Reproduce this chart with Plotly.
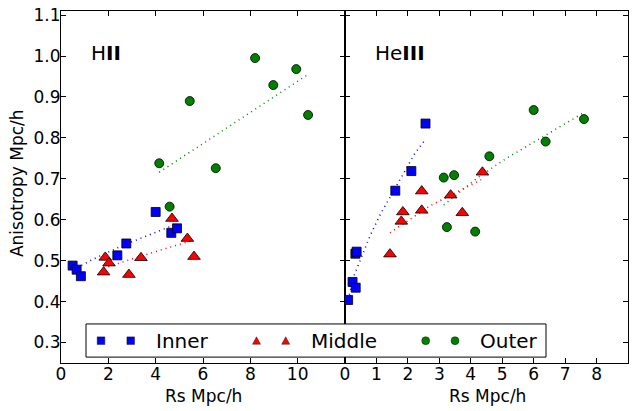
import plotly.graph_objects as go

# ---------------- data ----------------
# HII panel
hii_inner_x = [0.49, 0.66, 0.84, 2.38, 2.76, 4.00, 4.66, 4.90]
hii_inner_y = [0.488, 0.478, 0.462, 0.513, 0.542, 0.619, 0.568, 0.579]
hii_middle_x = [1.80, 1.87, 2.03, 2.87, 3.38, 4.69, 5.34, 5.62]
hii_middle_y = [0.472, 0.508, 0.494, 0.466, 0.507, 0.603, 0.554, 0.510]
hii_outer_x = [4.15, 4.59, 5.44, 6.54, 8.20, 8.97, 9.94, 10.44]
hii_outer_y = [0.738, 0.632, 0.890, 0.726, 0.995, 0.929, 0.968, 0.856]

# HeIII panel
heiii_inner_x = [0.10, 0.24, 0.34, 0.33, 0.37, 1.60, 2.11, 2.56]
heiii_inner_y = [0.404, 0.448, 0.434, 0.517, 0.522, 0.671, 0.719, 0.835]
heiii_middle_x = [1.43, 1.79, 1.84, 2.44, 2.44, 3.36, 3.73, 4.37]
heiii_middle_y = [0.516, 0.596, 0.619, 0.623, 0.670, 0.660, 0.617, 0.716]
heiii_outer_x = [3.14, 3.24, 3.47, 4.14, 4.59, 6.00, 6.38, 7.60]
heiii_outer_y = [0.703, 0.582, 0.709, 0.571, 0.755, 0.868, 0.791, 0.846]

# dotted trend curves
hii_inner_fit_x = [0.49, 1.30, 2.56, 4.90]
hii_inner_fit_y = [0.477, 0.502, 0.536, 0.590]
hii_middle_fit_x = [1.80, 2.77, 5.62]
hii_middle_fit_y = [0.481, 0.500, 0.551]
hii_outer_fit_x = [4.15, 10.44]
hii_outer_fit_y = [0.716, 0.955]

heiii_inner_fit_x = [0.10, 0.30, 0.81, 1.13, 2.22, 2.56]
heiii_inner_fit_y = [0.405, 0.466, 0.563, 0.614, 0.762, 0.796]
heiii_middle_fit_x = [1.43, 2.70, 4.33]
heiii_middle_fit_y = [0.568, 0.634, 0.698]
heiii_outer_fit_x = [3.14, 3.59, 4.17, 5.09, 7.60]
heiii_outer_fit_y = [0.636, 0.664, 0.700, 0.748, 0.862]

series_names = ["Inner", "Middle", "Outer"]
y_ticks = [0.3, 0.4, 0.5, 0.6, 0.7, 0.8, 0.9, 1.0, 1.1]
y_tick_text = ["0.3", "0.4", "0.5", "0.6", "0.7", "0.8", "0.9", "1.0", "1.1"]
hii_x_ticks = [0, 2, 4, 6, 8, 10]
heiii_x_ticks = [0, 1, 2, 3, 4, 5, 6, 7, 8]
panel_labels = ["H<b>II</b>", "He<b>III</b>"]
x_title = "Rs Mpc/h"
y_title = "Anisotropy Mpc/h"

# ---------------- styling ----------------
FONT = "DejaVu Sans"
colors = ["#0000ff", "#ff0000", "#008000"]
symbols = ["square", "triangle-up", "circle"]
sizes = [9, 11, 9]

fig = go.Figure()

panels = [
    ("x", "y",
     [(hii_inner_x, hii_inner_y), (hii_middle_x, hii_middle_y), (hii_outer_x, hii_outer_y)],
     [(hii_inner_fit_x, hii_inner_fit_y), (hii_middle_fit_x, hii_middle_fit_y),
      (hii_outer_fit_x, hii_outer_fit_y)]),
    ("x2", "y2",
     [(heiii_inner_x, heiii_inner_y), (heiii_middle_x, heiii_middle_y), (heiii_outer_x, heiii_outer_y)],
     [(heiii_inner_fit_x, heiii_inner_fit_y), (heiii_middle_fit_x, heiii_middle_fit_y),
      (heiii_outer_fit_x, heiii_outer_fit_y)]),
]

for xa, ya, pts, fits in panels:
    for i, (fx, fy) in enumerate(fits):
        fig.add_trace(go.Scatter(
            x=fx, y=fy, xaxis=xa, yaxis=ya, mode="lines",
            line=dict(color=colors[i], width=1.5, dash="1px,4px"),
            showlegend=False, hoverinfo="skip"))
    for i, (px, py) in enumerate(pts):
        fig.add_trace(go.Scatter(
            x=px, y=py, xaxis=xa, yaxis=ya, mode="markers",
            name=series_names[i],
            marker=dict(symbol=symbols[i], size=sizes[i], color=colors[i],
                        line=dict(color="black", width=0.8)),
            showlegend=False))

axis_common = dict(
    showline=True, linecolor="black", linewidth=1, mirror="ticks",
    ticks="inside", ticklen=5, tickwidth=1, tickcolor="black",
    showgrid=False, zeroline=False, ticklabeloverflow="allow",
    tickfont=dict(family=FONT, size=17, color="black"),
)

split = 284 / 567
fig.update_layout(
    width=638, height=411,
    margin=dict(l=61, r=10, t=5, b=48),
    paper_bgcolor="white", plot_bgcolor="white",
    font=dict(family=FONT, color="black"),
    xaxis=dict(domain=[0, split], range=[0, 12], tickmode="array",
               tickvals=hii_x_ticks, anchor="y", ticklabelstandoff=-4, **axis_common),
    xaxis2=dict(domain=[split, 1], range=[0, 9], tickmode="array",
                tickvals=heiii_x_ticks, anchor="y2", ticklabelstandoff=-4, **axis_common),
    yaxis=dict(domain=[0, 1], range=[0.25, 1.11], tickmode="array",
               tickvals=y_ticks, ticktext=y_tick_text, anchor="x",
               ticklabelstandoff=-4, **axis_common),
    yaxis2=dict(domain=[0, 1], range=[0.25, 1.11], tickmode="array",
                tickvals=y_ticks, ticktext=y_tick_text, anchor="x2",
                showticklabels=False, **axis_common),
    showlegend=False,
)

# ---------------- text ----------------
W, H = 567.0, 358.0
def px_x(p):
    return (p - 61) / W
def px_y(p):
    return (363 - p) / H

annotations = [
    dict(text=panel_labels[0], x=px_x(89), y=px_y(48), xanchor="left", yanchor="middle",
         font=dict(size=20)),
    dict(text=panel_labels[1], x=px_x(373), y=px_y(48), xanchor="left", yanchor="middle",
         font=dict(size=20)),
    dict(text=x_title, x=px_x(203), y=px_y(397), xanchor="center", yanchor="middle",
         font=dict(size=17)),
    dict(text=x_title, x=px_x(487), y=px_y(397), xanchor="center", yanchor="middle",
         font=dict(size=17)),
    dict(text=y_title, x=px_x(17), y=px_y(180), xanchor="center", yanchor="middle",
         textangle=-90, font=dict(size=17)),
]

# ---------------- legend (matplotlib-style, two markers per entry) ----------------
shapes = [dict(type="rect", xref="paper", yref="paper",
               x0=px_x(86), x1=px_x(546), y0=px_y(357), y1=px_y(323.3),
               fillcolor="white", line=dict(color="black", width=1), layer="above")]
leg_y = px_y(340.3)
marker_px = [(101, 130.7), (256.5, 285.7), (425.7, 455)]
text_px = [154, 309, 478]
for i in range(3):
    for mx in marker_px[i]:
        base = dict(xref="paper", yref="paper", xsizemode="pixel", ysizemode="pixel",
                    xanchor=px_x(mx), yanchor=leg_y, fillcolor=colors[i],
                    line=dict(color="black", width=0.4), layer="above")
        if i == 0:
            shapes.append(dict(type="rect", x0=-3.8, x1=3.8, y0=-3.8, y1=3.8, **base))
        elif i == 1:
            shapes.append(dict(type="path", path="M-4,-3.6 L4,-3.6 L0,3.9 Z", **base))
        else:
            shapes.append(dict(type="circle", x0=-4, x1=4, y0=-4, y1=4, **base))
    annotations.append(dict(text=series_names[i], x=px_x(text_px[i]), y=leg_y,
                            xanchor="left", yanchor="middle", font=dict(size=20)))

for a in annotations:
    a.update(xref="paper", yref="paper", showarrow=False)
    a["font"] = dict(family=FONT, color="black", **a["font"])

fig.update_layout(annotations=annotations, shapes=shapes)

# remove the browser's default page margin so the figure sits at (0, 0)
fig.write_html("out.html", config={"displayModeBar": False},
               post_script="document.body.style.margin='0';")
